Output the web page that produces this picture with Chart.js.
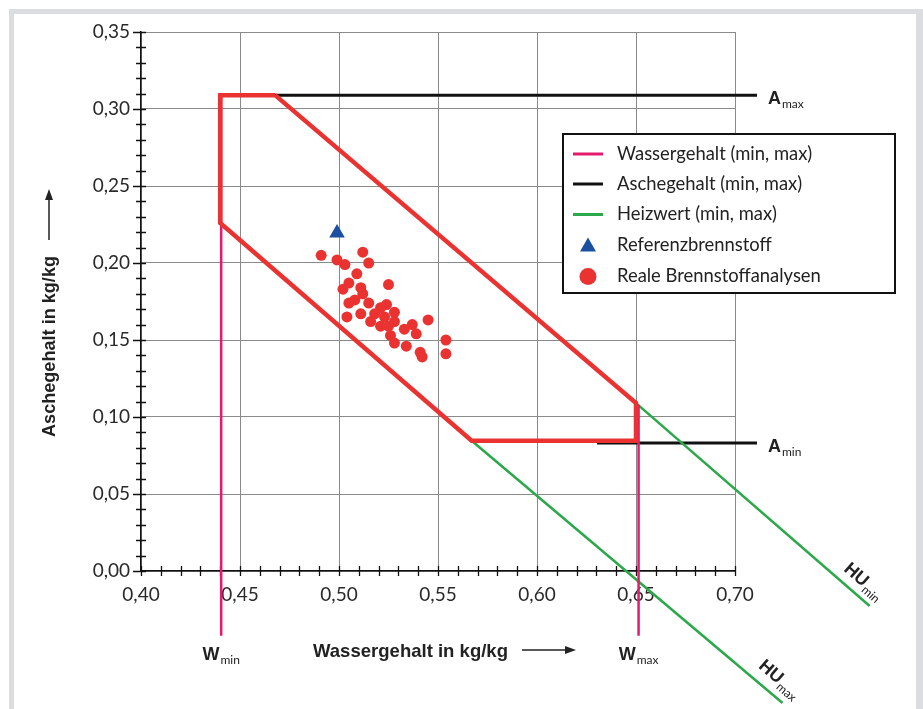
<!DOCTYPE html>
<html><head><meta charset="utf-8">
<script src="https://cdn.jsdelivr.net/npm/chart.js@4.4.1/dist/chart.umd.min.js"></script>
<style>
html,body{margin:0;padding:0;background:#fff;width:923px;height:709px;overflow:hidden;}
#frame{position:absolute;left:9px;top:9px;width:902px;height:800px;border:5px solid #dcdde0;border-right-width:8px;}
#wrap{position:absolute;left:0;top:0;width:923px;height:709px;}
</style></head><body>
<div id="frame"></div>
<div id="wrap"><canvas id="c" width="923" height="709"></canvas></div>
<script>
// ---------- data ----------
const xTickValues = [0.40, 0.45, 0.50, 0.55, 0.60, 0.65, 0.70];
const yTickValues = [0.00, 0.05, 0.10, 0.15, 0.20, 0.25, 0.30, 0.35];

const analysesX = [0.491,0.499,0.503,0.512,0.515,0.509,0.525,0.505,0.502,0.511,0.512,0.505,0.508,0.515,0.524,0.521,0.511,0.518,0.504,0.528,0.523,0.516,0.528,0.521,0.525,0.537,0.533,0.539,0.545,0.526,0.528,0.534,0.541,0.542,0.554,0.554];
const analysesY = [0.205,0.202,0.199,0.207,0.200,0.193,0.186,0.187,0.183,0.184,0.180,0.174,0.176,0.174,0.173,0.171,0.167,0.167,0.165,0.168,0.165,0.162,0.162,0.159,0.159,0.160,0.157,0.154,0.163,0.153,0.148,0.146,0.142,0.139,0.150,0.141];

const referenceX = [0.499];
const referenceY = [0.2195];

// feasible region (red polygon), traced from the top-right corner and closed past the top-left corner
const regionX = [0.4677, 0.650, 0.650, 0.567, 0.440, 0.440, 0.4677];
const regionY = [0.309, 0.109, 0.0846, 0.0846, 0.226, 0.309, 0.309];

// limit lines
const wMinX = [0.4405, 0.4405];  const wMinY = [0.309, -0.042];
const wMaxX = [0.6513, 0.6513];  const wMaxY = [0.108, -0.042];
const aMaxX = [0.460, 0.7111];   const aMaxY = [0.309, 0.309];
const aMinX = [0.6303, 0.7111];  const aMinY = [0.0831, 0.0831];
const huMinX = [0.650, 0.768];   const huMinY = [0.109, -0.0227];
const huMaxX = [0.567, 0.724];   const huMaxY = [0.0846, -0.0857];

const legendLabels = ['Wassergehalt (min, max)', 'Aschegehalt (min, max)', 'Heizwert (min, max)', 'Referenzbrennstoff', 'Reale Brennstoffanalysen'];
const xTitle = 'Wassergehalt in kg/kg';
const yTitle = 'Aschegehalt in kg/kg';

// ---------- styles ----------
const PINK = '#e51a6c', BLACK = '#111111', GREEN = '#2aa84a', BLUE = '#1b4f9f', RED = '#ea3331';
const TEXT = '#222222';
const toXY = (xs, ys) => xs.map((x, i) => ({x: x, y: ys[i]}));
const fmt = v => Number(v).toFixed(2).replace('.', ',');

function lineDs(xs, ys, color, width) {
  return {data: toXY(xs, ys), showLine: true, borderColor: color, borderWidth: width,
          pointRadius: 0, clip: false, borderJoinStyle: 'miter', borderCapStyle: 'butt', tension: 0};
}

const datasets = [
  {data: toXY(analysesX, analysesY), pointStyle: 'circle', pointRadius: 5.5, backgroundColor: RED, borderWidth: 0, clip: false},
  {data: toXY(referenceX, referenceY), pointStyle: 'triangle', pointRadius: 9, backgroundColor: BLUE, borderWidth: 0, clip: false},
  lineDs(regionX, regionY, RED, 4.5),
  lineDs(wMinX, wMinY, PINK, 2.5),
  lineDs(wMaxX, wMaxY, PINK, 2.5),
  lineDs(huMinX, huMinY, GREEN, 2.5),
  lineDs(huMaxX, huMaxY, GREEN, 2.5),
  lineDs(aMaxX, aMaxY, BLACK, 3),
  lineDs(aMinX, aMinY, BLACK, 3)
];

function fitSize(ctx, text, weight, family, target) {
  ctx.font = weight + ' 20px ' + family;
  return 20 * target / ctx.measureText(text).width;
}

// bold condensed text: draw at given size, squeezed horizontally to target width
function condensed(ctx, text, x, y, size, targetW) {
  ctx.save();
  ctx.font = 'bold ' + size + 'px "Liberation Sans"';
  const w = ctx.measureText(text).width;
  ctx.translate(x, y);
  ctx.scale(targetW / w, 1);
  ctx.fillStyle = TEXT; ctx.textAlign = 'left'; ctx.textBaseline = 'alphabetic';
  ctx.fillText(text, 0, 0);
  ctx.restore();
}

function subLabel(ctx, x, y, main, sub, align, mainSize, subSize) {
  ctx.save();
  ctx.fillStyle = TEXT;
  ctx.textBaseline = 'alphabetic';
  ctx.font = 'bold ' + mainSize + 'px "Liberation Sans"';
  const wm = ctx.measureText(main).width;
  ctx.font = subSize + 'px Lato';
  const ws = ctx.measureText(sub).width;
  let x0 = x;
  if (align === 'center') x0 = x - (wm + ws + 1) / 2;
  ctx.font = 'bold ' + mainSize + 'px "Liberation Sans"';
  ctx.textAlign = 'left';
  ctx.fillText(main, x0, y);
  ctx.font = subSize + 'px Lato';
  ctx.fillText(sub, x0 + wm + 1, y + 4);
  ctx.restore();
}

function arrowH(ctx, x1, x2, y) {
  ctx.beginPath(); ctx.moveTo(x1, y); ctx.lineTo(x2 - 8, y); ctx.lineWidth = 1.5; ctx.strokeStyle = TEXT; ctx.stroke();
  ctx.beginPath(); ctx.moveTo(x2, y); ctx.lineTo(x2 - 11, y - 4); ctx.lineTo(x2 - 11, y + 4); ctx.closePath();
  ctx.fillStyle = TEXT; ctx.fill();
}

const decor = {
  id: 'decor',
  beforeDatasetsDraw(chart) {
    const ctx = chart.ctx, xs = chart.scales.x, ys = chart.scales.y;
    ctx.save();
    ctx.strokeStyle = BLACK; ctx.lineWidth = 1.3;
    const ax = xs.getPixelForValue(0.40), ay = ys.getPixelForValue(0);
    ctx.beginPath();
    for (let i = 0; i <= 30; i++) {
      const px = Math.round(xs.getPixelForValue(0.40 + i * 0.01)) + 0.5;
      ctx.moveTo(px, ay - 5); ctx.lineTo(px, ay + 5);
    }
    for (let i = 0; i <= 35; i++) {
      const py = Math.round(ys.getPixelForValue(i * 0.01)) + 0.5;
      const major = i % 5 === 0;
      ctx.moveTo(ax - (major ? 8 : 5), py); ctx.lineTo(ax + 5, py);
    }
    ctx.stroke();
    ctx.restore();
  },
  afterDraw(chart) {
    const ctx = chart.ctx, xs = chart.scales.x, ys = chart.scales.y;
    ctx.save();
    // axis titles
    condensed(ctx, xTitle, 313, 657, 19, 195);
    arrowH(ctx, 522, 576, 650);
    ctx.save();
    ctx.translate(55, 437); ctx.rotate(-Math.PI / 2);
    condensed(ctx, yTitle, 0, 0, 19, 181);
    arrowH(ctx, 197, 248, -6);
    ctx.restore();

    // limit labels
    subLabel(ctx, xs.getPixelForValue(aMaxX[1]) + 11, ys.getPixelForValue(aMaxY[0]) + 9, 'A', 'max', 'left', 18, 12);
    subLabel(ctx, xs.getPixelForValue(aMinX[1]) + 11, ys.getPixelForValue(aMinY[0]) + 9, 'A', 'min', 'left', 18, 12);
    subLabel(ctx, xs.getPixelForValue(wMinX[0]), 660, 'W', 'min', 'center', 18, 12);
    subLabel(ctx, xs.getPixelForValue(wMaxX[0]), 660, 'W', 'max', 'center', 18, 12);
    // rotated HU labels
    const ang = Math.atan2(ys.getPixelForValue(huMinY[1]) - ys.getPixelForValue(huMinY[0]),
                           xs.getPixelForValue(huMinX[1]) - xs.getPixelForValue(huMinX[0]));
    [[0.7545, 0.0005, 'min'], [0.7115, -0.0625, 'max']].forEach(([vx, vy, sub]) => {
      ctx.save();
      ctx.translate(xs.getPixelForValue(vx), ys.getPixelForValue(vy));
      ctx.rotate(ang);
      subLabel(ctx, 0, 0, 'HU', sub, 'left', 18, 12);
      ctx.restore();
    });

    // legend
    const L = 563, T = 134, R = 895, B = 293;
    ctx.fillStyle = '#fff'; ctx.fillRect(L, T, R - L, B - T);
    ctx.strokeStyle = BLACK; ctx.lineWidth = 2; ctx.strokeRect(L, T, R - L, B - T);
    const rows = [154, 184, 214.5, 245.5, 276.5];
    const lf = 'Lato';
    const ls = fitSize(ctx, legendLabels[4], 'normal', lf, 204);
    const cols = [PINK, BLACK, GREEN];
    rows.forEach((ry, i) => {
      if (i < 3) {
        ctx.beginPath(); ctx.moveTo(573, ry); ctx.lineTo(603, ry);
        ctx.strokeStyle = cols[i]; ctx.lineWidth = 3; ctx.stroke();
      } else if (i === 3) {
        ctx.beginPath(); ctx.moveTo(588, ry - 8); ctx.lineTo(596, ry + 6); ctx.lineTo(580, ry + 6); ctx.closePath();
        ctx.fillStyle = BLUE; ctx.fill();
      } else {
        ctx.beginPath(); ctx.arc(588, ry, 8.5, 0, Math.PI * 2); ctx.fillStyle = RED; ctx.fill();
      }
      ctx.font = ls + 'px ' + lf; ctx.fillStyle = TEXT; ctx.textAlign = 'left'; ctx.textBaseline = 'middle';
      ctx.fillText(legendLabels[i], 617, ry);
    });
    ctx.restore();
  }
};

new Chart(document.getElementById('c'), {
  type: 'scatter',
  data: {datasets: datasets},
  options: {
    responsive: false, animation: false, devicePixelRatio: 1,
    layout: {padding: {left: 0, right: 188, top: 32, bottom: 0}},
    plugins: {legend: {display: false}, tooltip: {enabled: false}},
    scales: {
      x: {
        type: 'linear', min: 0.40, max: 0.70,
        afterBuildTicks: s => { s.ticks = xTickValues.map(v => ({value: v})); },
        afterFit: s => { s.height = 138; },
        ticks: {callback: fmt, padding: 12, color: '#2a2a2a', font: {family: 'Lato', size: 19}, maxRotation: 0},
        grid: {color: '#8a8a8a', lineWidth: 1, drawTicks: false},
        border: {color: BLACK, width: 1.5}
      },
      y: {
        type: 'linear', min: 0, max: 0.35,
        afterBuildTicks: s => { s.ticks = yTickValues.map(v => ({value: v})); },
        afterFit: s => { s.width = 141; },
        ticks: {callback: fmt, padding: 11, color: '#2a2a2a', font: {family: 'Lato', size: 19}},
        grid: {color: '#8a8a8a', lineWidth: 1, drawTicks: false},
        border: {color: BLACK, width: 1.5}
      }
    }
  },
  plugins: [decor]
});
</script>
</body></html>
